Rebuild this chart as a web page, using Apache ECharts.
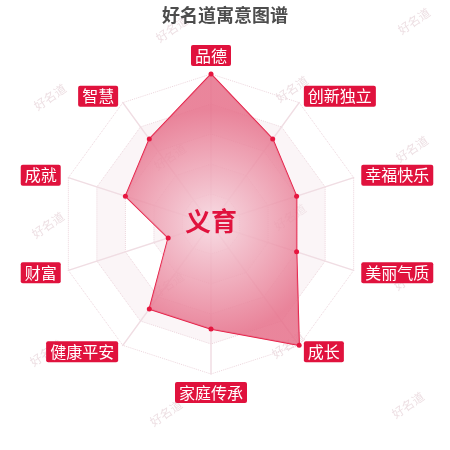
<!DOCTYPE html>
<html>
<head>
<meta charset="utf-8">
<style>
html,body{margin:0;padding:0;background:#fff;}
#main{width:450px;height:450px;}
</style>
<script src="https://cdn.jsdelivr.net/npm/echarts@6/dist/echarts.min.js"></script>
</head>
<body>
<div id="main"></div>
<script>
var titleText = '好名道寓意图谱';
var nameText = '义育';
// clockwise from the top
var indicatorNames = ['品德','创新独立','幸福快乐','美丽气质','成长','家庭传承','健康平安','财富','成就','智慧'];
var scores = [100, 70, 60, 60, 100, 70, 70, 30, 60, 70];
var maxScore = 100;

// echarts lays the radar out anticlockwise, so keep the first and flip the rest
function toAnticlockwise(arr){
	return [arr[0]].concat(arr.slice(1).reverse());
}

var chart = echarts.init(document.getElementById('main'));

// watermark "好名道" tiled over the picture
var marks = [];
for (var i = -3; i < 6; i++) {
	for (var j = -3; j < 6; j++) {
		var x = 50 + i*120 + j*122;
		var y = 97 + i*60 - j*68;
		if (x < -30 || x > 480 || y < -20 || y > 470) continue;
		marks.push({
			type:'text',
			x:x, y:y,
			rotation:0.6,
			z:-1,
			silent:true,
			style:{
				text:'好名道',
				fill:'rgba(222,196,204,0.55)',
				font:'12px "Noto Sans CJK SC"',
				align:'center',
				verticalAlign:'middle'
			}
		});
	}
}
// name in the middle of the radar
marks.push({
	type:'text',
	x:211, y:221,
	z:50,
	silent:true,
	style:{
		text:nameText,
		fill:'#e0123d',
		font:'bold 26px "Noto Sans CJK SC"',
		align:'center',
		verticalAlign:'middle'
	}
});

chart.setOption({
	title:{
		text:titleText,
		left:'center',
		top:1,
		textStyle:{
			color:'#4d4d4d',
			fontSize:18,
			fontWeight:'bold',
			fontFamily:'"Noto Sans CJK SC"'
		}
	},
	graphic:marks,
	radar:{
		center:[211, 224],
		radius:150,
		startAngle:90,
		splitNumber:5,
		shape:'polygon',
		indicator:toAnticlockwise(indicatorNames).map(function(n){ return {name:n, max:maxScore}; }),
		nameGap:8,
		axisName:{
			color:'#fff',
			backgroundColor:'#e0123d',
			borderRadius:2,
			padding:[2,4],
			fontSize:16,
			lineHeight:17,
			fontFamily:'"Noto Sans CJK SC"'
		},
		axisLine:{
			lineStyle:{color:'#f0dde3', width:1.5}
		},
		splitLine:{
			lineStyle:{color:'#ecd5dc', type:'dotted', width:1}
		},
		splitArea:{
			show:true,
			areaStyle:{
				color:['rgba(255,255,255,0)','rgba(247,232,237,0.45)']
			}
		}
	},
	series:[{
		type:'radar',
		silent:true,
		symbol:'circle',
		symbolSize:5,
		lineStyle:{color:'#e6163f', width:1.5},
		itemStyle:{color:'#e6163f'},
		areaStyle:{
			opacity:1,
			color:new echarts.graphic.RadialGradient(0.5,0.55,0.65,[{
				offset:0,
				color:'rgba(246,214,223,0.85)'
			},{
				offset:1,
				color:'rgba(230,112,138,0.85)'
			}],false)
		},
		data:[{value:toAnticlockwise(scores), name:nameText}]
	}]
});
</script>
</body>
</html>
